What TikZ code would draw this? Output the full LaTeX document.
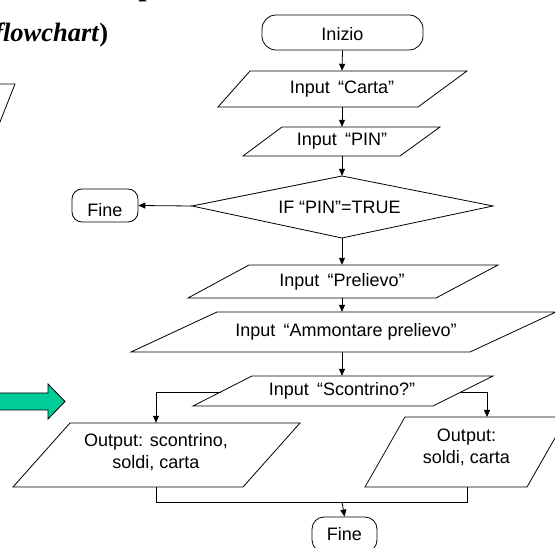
\documentclass[tikz,border=0pt]{standalone}
\usepackage{fontspec}
\setmainfont{Liberation Sans}
\newfontfamily\titlefont{Liberation Serif}
\usetikzlibrary{arrows.meta}
\definecolor{arrowgreen}{RGB}{0,204,153}
\tikzset{
  shp/.style={draw=black, line width=0.8pt, line join=miter},
  lbl/.style={inner sep=0pt, align=center, font=\fontsize{18}{22}\selectfont},
  term/.style={draw=black, line width=0.8pt},
  conn/.style={draw=black, line width=0.8pt, -{Triangle[length=7pt,width=6pt]}},
  plainline/.style={draw=black, line width=0.8pt},
}
\newcommand{\lowertext}[2]{\raisebox{-#1}[\height][\depth]{#2}}
\begin{document}
\begin{tikzpicture}[x=1pt,y=-1pt]
\useasboundingbox (0,0) rectangle (555,548);
\clip (0,0) rectangle (555,548);
% header remnants
\node[anchor=base west, inner sep=0pt, font=\titlefont\bfseries\fontsize{30}{36}\selectfont] (hdr) at (65,-4) {[esempio]};
\node[anchor=base east, inner sep=0pt, font=\titlefont\bfseries\fontsize{26.5}{32}\selectfont] (hdr2) at (108.5,42) {(\textit{flowchart})};
% partial shape on the left
\draw[shp] (-10,84) -- (15,84) -- (-3.2,130);
% green arrow
\draw[draw=black, line width=0.8pt, fill=arrowgreen] (-5,393) -- (48,393) -- (48,384) -- (65,401.5) -- (48,419) -- (48,410) -- (-5,410) -- cycle;

% terminals
\node[term, lbl, rounded corners=14pt, minimum width=161pt, minimum height=35pt] (inizio) at (342.5,32.5) {\lowertext{2pt}{Inizio}};
\node[term, lbl, rounded corners=10pt, minimum width=66pt, minimum height=33pt] (fine1) at (105,205.5) {\lowertext{5pt}{Fine}};
\node[term, lbl, rounded corners=12pt, minimum width=65pt, minimum height=35pt] (fine2) at (344.5,534.5) {Fine};

% Input Carta
\draw[shp] (250,71) -- (467,71) -- (418,107) -- (218,107) -- cycle;
\node[lbl, minimum height=36pt] (carta) at (342,89) {Input\hspace{0.45em}“Carta”};
% Input PIN
\draw[shp] (282,127) -- (440,127) -- (400,156) -- (243,156) -- cycle;
\node[lbl, minimum height=29pt] (pin) at (342,141.5) {Input\hspace{0.45em}“PIN”};
% decision
\draw[shp] (192,206) -- (342,176) -- (493,206) -- (342,238) -- cycle;
\node[lbl, minimum height=62pt] (ifpin) at (342,207) {\hspace{-5pt}IF “PIN”=TRUE};
\coordinate (ifW) at (192,206);
% Input Prelievo
\draw[shp] (249,265) -- (498,265) -- (436,298) -- (188,298) -- cycle;
\node[lbl, minimum height=33pt] (prel) at (342,281.5) {Input\hspace{0.45em}“Prelievo”};
% Input Ammontare prelievo
\draw[shp] (217,312) -- (556,312) -- (470,352) -- (131,352) -- cycle;
\node[lbl, minimum height=40pt] (amm) at (342,332) {\hspace{8pt}Input\hspace{0.45em}“Ammontare prelievo”};
% Input Scontrino?
\draw[shp] (252,376) -- (493,376) -- (433,406) -- (193,406) -- cycle;
\node[lbl, minimum height=30pt] (scon) at (342,391) {Input\hspace{0.45em}“Scontrino?”};
\coordinate (sconL) at (220.5,392);
\coordinate (sconR) at (461,392);
% Output left
\draw[shp] (70,423) -- (300,423) -- (243,487) -- (13,487) -- cycle;
\node[lbl, minimum height=64pt] (outL) at (156,455) {\lowertext{-2pt}{\begin{tabular}{@{}c@{}}Output: scontrino,\\soldi, carta\end{tabular}}};
% Output right
\draw[shp] (405,417) -- (567,417) -- (527,487) -- (365,487) -- cycle;
\node[lbl] (outR) at (466.5,447) {Output:\\soldi, carta};
\coordinate (outRtop) at (487,417);
\coordinate (outRbot) at (467,487);
\coordinate (mergeL) at (156,502);
\coordinate (mergeR) at (467,502);
\coordinate (merge) at (342,502);

% connectors
\draw[conn] (inizio.south) -- (carta.north);
\draw[conn] (carta.south) -- (pin.north);
\draw[conn] (pin.south) -- (ifpin.north);
\draw[conn] (ifW) -- (fine1.east);
\draw[conn] (ifpin.south) -- (prel.north);
\draw[conn] (prel.south) -- (amm.north);
\draw[conn] (amm.south) -- (scon.north);
\draw[conn] (sconL) -| (outL.north);
\draw[conn] (sconR) -| (outRtop);
\draw[plainline] (outL.south) -- (mergeL) -- (mergeR) -- (outRbot);
\draw[conn] (merge) -- (fine2.north);
\end{tikzpicture}
\end{document}
